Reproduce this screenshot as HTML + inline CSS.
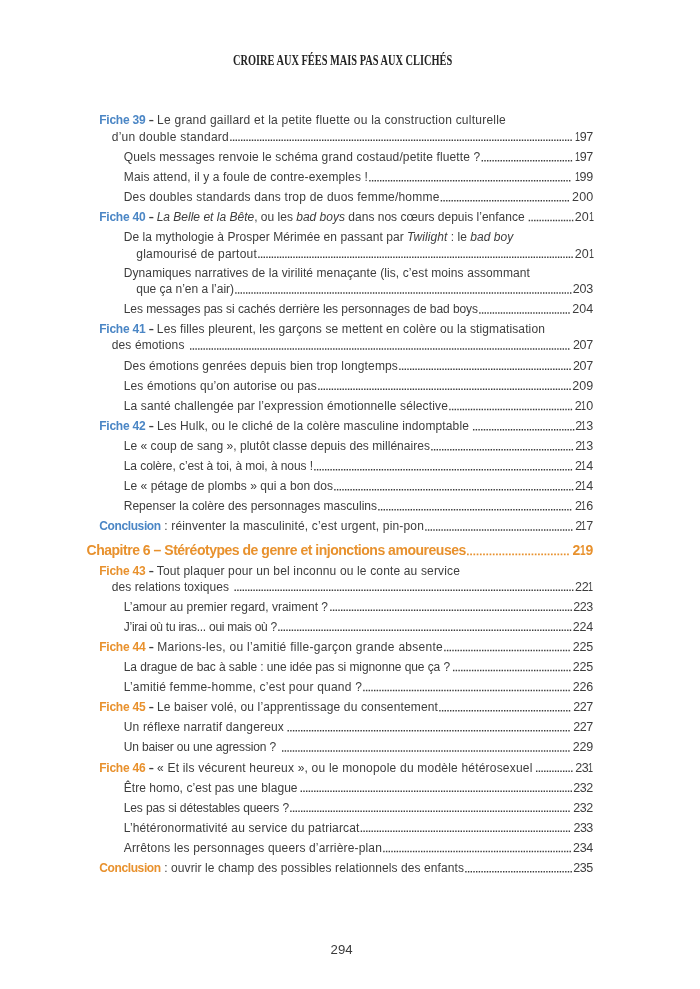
<!DOCTYPE html>
<html lang="fr">
<head>
<meta charset="utf-8">
<title>Table des matières – page 294</title>
<style>
html,body{margin:0;padding:0;background:#fff;}
body{width:700px;height:989px;position:relative;overflow:hidden;font-family:"Liberation Sans",sans-serif;color:#3d3d3d;}
.l{position:absolute;white-space:nowrap;line-height:18px;height:18px;font-size:12.0px;}
.l.h{font-size:14.0px;font-weight:bold;color:#e8912d;}
.t{position:absolute;left:0;top:0;white-space:pre;}
.p{position:absolute;right:0;top:0;font-size:12.5px;font-weight:normal;}
.l.h .p{font-size:14.0px;font-weight:bold;}
.b .k{color:#4b86c5;font-weight:bold;}
.o .k{color:#e8912d;font-weight:bold;}
i{font-style:italic;}
.ds{display:inline-block;width:4.6px;letter-spacing:0;font-weight:bold;transform:scaleX(.69);transform-origin:0 50%;}
.n1{display:inline-block;width:.39em;margin-left:-.03em;transform:scaleX(.72);transform-origin:0 50%;}
#ld{position:absolute;left:0;top:0;pointer-events:none;}
.dd{stroke:#3c3c3c;stroke-width:1.5;stroke-dasharray:1.4 1.3;}
.dh{stroke:#e8912d;stroke-width:1.75;stroke-dasharray:1.7 1.53;}
#hd{position:absolute;white-space:nowrap;font-family:"Liberation Serif",serif;font-weight:bold;color:#242424;transform-origin:0 0;line-height:20px;}
#ft{position:absolute;white-space:nowrap;color:#3a3a3a;line-height:20px;}
</style>
</head>
<body>
<div id="hd" style="left:232.70px;top:50.90px;font-size:14.0px;transform:scaleX(0.7402)">CROIRE AUX FÉES MAIS PAS AUX CLICHÉS</div>
<div class="l b" style="left:99.25px;top:111.25px;width:494.05px"><span class="t"><span class="k" style="letter-spacing:-0.241px">Fiche 39</span><span style="letter-spacing:0.236px"> <span class="ds">–</span> Le grand gaillard et la petite fluette ou la construction culturelle</span></span></div>
<div class="l b" style="left:111.75px;top:127.50px;width:481.55px"><span class="t"><span style="letter-spacing:0.258px">d’un double standard</span></span><span class="p" style="letter-spacing:-0.34px;margin-right:0.34px"><span class="n1">1</span>97</span></div>
<div class="l b" style="left:123.75px;top:148.00px;width:469.55px"><span class="t"><span style="letter-spacing:0.134px">Quels messages renvoie le schéma grand costaud/petite fluette ?</span></span><span class="p" style="letter-spacing:-0.34px;margin-right:0.34px"><span class="n1">1</span>97</span></div>
<div class="l b" style="left:123.75px;top:168.00px;width:469.55px"><span class="t"><span style="letter-spacing:0.133px">Mais attend, il y a foule de contre-exemples !</span></span><span class="p" style="letter-spacing:-0.04px;margin-right:0.04px"><span class="n1">1</span>99</span></div>
<div class="l b" style="left:123.75px;top:188.00px;width:469.55px"><span class="t"><span style="letter-spacing:0.201px">Des doubles standards dans trop de duos femme/homme</span></span><span class="p" style="letter-spacing:0.25px;margin-right:-0.25px">200</span></div>
<div class="l b" style="left:99.25px;top:207.90px;width:494.05px"><span class="t"><span class="k" style="letter-spacing:-0.241px">Fiche 40</span><span style="letter-spacing:0.006px"> <span class="ds">–</span> <i>La Belle et la Bête</i>, ou les <i>bad boys</i> dans nos cœurs depuis l’enfance</span></span><span class="p" style="letter-spacing:0.10px;margin-right:-0.10px">20<span class="n1">1</span></span></div>
<div class="l b" style="left:123.75px;top:228.30px;width:469.55px"><span class="t"><span style="letter-spacing:0.051px">De la mythologie à Prosper Mérimée en passant par <i>Twilight</i> : le <i>bad boy</i></span></span></div>
<div class="l b" style="left:136.25px;top:244.50px;width:457.05px"><span class="t"><span style="letter-spacing:0.222px">glamourisé de partout</span></span><span class="p" style="letter-spacing:0.10px;margin-right:-0.10px">20<span class="n1">1</span></span></div>
<div class="l b" style="left:123.75px;top:264.40px;width:469.55px"><span class="t"><span style="letter-spacing:0.091px">Dynamiques narratives de la virilité menaçante (lis, c’est moins assommant</span></span></div>
<div class="l b" style="left:136.25px;top:280.40px;width:457.05px"><span class="t"><span style="letter-spacing:-0.016px">que ça n’en a l’air)</span></span><span class="p" style="letter-spacing:-0.15px;margin-right:0.15px">203</span></div>
<div class="l b" style="left:123.75px;top:300.40px;width:469.55px"><span class="t"><span style="letter-spacing:-0.063px">Les messages pas si cachés derrière les personnages de bad boys</span></span><span class="p" style="letter-spacing:0.11px;margin-right:-0.11px">204</span></div>
<div class="l b" style="left:99.25px;top:320.40px;width:494.05px"><span class="t"><span class="k" style="letter-spacing:-0.241px">Fiche 41</span><span style="letter-spacing:0.116px"> <span class="ds">–</span> Les filles pleurent, les garçons se mettent en colère ou la stigmatisation</span></span></div>
<div class="l b" style="left:111.75px;top:336.40px;width:481.55px"><span class="t"><span style="letter-spacing:0.115px">des émotions</span></span><span class="p" style="letter-spacing:-0.22px;margin-right:0.22px">207</span></div>
<div class="l b" style="left:123.75px;top:356.50px;width:469.55px"><span class="t"><span style="letter-spacing:0.144px">Des émotions genrées depuis bien trop longtemps</span></span><span class="p" style="letter-spacing:-0.22px;margin-right:0.22px">207</span></div>
<div class="l b" style="left:123.75px;top:376.70px;width:469.55px"><span class="t"><span style="letter-spacing:0.111px">Les émotions qu’on autorise ou pas</span></span><span class="p" style="letter-spacing:0.08px;margin-right:-0.08px">209</span></div>
<div class="l b" style="left:123.75px;top:396.80px;width:469.55px"><span class="t"><span style="letter-spacing:0.136px">La santé challengée par l’expression émotionnelle sélective</span></span><span class="p" style="letter-spacing:0.10px;margin-right:-0.10px">2<span class="n1">1</span>0</span></div>
<div class="l b" style="left:99.25px;top:417.00px;width:494.05px"><span class="t"><span class="k" style="letter-spacing:-0.241px">Fiche 42</span><span style="letter-spacing:0.128px"> <span class="ds">–</span> Les Hulk, ou le cliché de la colère masculine indomptable</span></span><span class="p" style="letter-spacing:-0.30px;margin-right:0.30px">2<span class="n1">1</span>3</span></div>
<div class="l b" style="left:123.75px;top:437.00px;width:469.55px"><span class="t"><span style="letter-spacing:0.036px">Le « coup de sang », plutôt classe depuis des millénaires</span></span><span class="p" style="letter-spacing:-0.30px;margin-right:0.30px">2<span class="n1">1</span>3</span></div>
<div class="l b" style="left:123.75px;top:457.00px;width:469.55px"><span class="t"><span style="letter-spacing:-0.073px">La colère, c’est à toi, à moi, à nous !</span></span><span class="p" style="letter-spacing:-0.04px;margin-right:0.04px">2<span class="n1">1</span>4</span></div>
<div class="l b" style="left:123.75px;top:477.00px;width:469.55px"><span class="t"><span style="letter-spacing:0.047px">Le « pétage de plombs » qui a bon dos</span></span><span class="p" style="letter-spacing:-0.04px;margin-right:0.04px">2<span class="n1">1</span>4</span></div>
<div class="l b" style="left:123.75px;top:497.00px;width:469.55px"><span class="t"><span style="letter-spacing:0.010px">Repenser la colère des personnages masculins</span></span><span class="p" style="letter-spacing:-0.04px;margin-right:0.04px">2<span class="n1">1</span>6</span></div>
<div class="l b" style="left:99.25px;top:517.25px;width:494.05px"><span class="t"><span class="k" style="letter-spacing:-0.384px">Conclusion</span><span style="letter-spacing:0.166px"> : réinventer la masculinité, c’est urgent, pin-pon</span></span><span class="p" style="letter-spacing:-0.37px;margin-right:0.37px">2<span class="n1">1</span>7</span></div>
<div class="l h o" style="left:86.50px;top:541.00px;width:506.80px"><span class="t"><span class="k" style="letter-spacing:-0.481px">Chapitre 6 – Stéréotypes de genre et injonctions amoureuses</span></span><span class="p" style="letter-spacing:0.19px;margin-right:-0.19px">2<span class="n1">1</span>9</span></div>
<div class="l o" style="left:99.25px;top:561.50px;width:494.05px"><span class="t"><span class="k" style="letter-spacing:-0.241px">Fiche 43</span><span style="letter-spacing:0.153px"> <span class="ds">–</span> Tout plaquer pour un bel inconnu ou le conte au service</span></span></div>
<div class="l o" style="left:111.75px;top:577.50px;width:481.55px"><span class="t"><span style="letter-spacing:0.058px">des relations toxiques</span></span><span class="p" style="letter-spacing:-0.10px;margin-right:0.10px">22<span class="n1">1</span></span></div>
<div class="l o" style="left:123.75px;top:597.50px;width:469.55px"><span class="t"><span style="letter-spacing:0.004px">L’amour au premier regard, vraiment ?</span></span><span class="p" style="letter-spacing:-0.35px;margin-right:0.35px">223</span></div>
<div class="l o" style="left:123.75px;top:617.70px;width:469.55px"><span class="t"><span style="letter-spacing:-0.260px">J’irai où tu iras... oui mais où ?</span></span><span class="p" style="letter-spacing:-0.09px;margin-right:0.09px">224</span></div>
<div class="l o" style="left:99.25px;top:637.75px;width:494.05px"><span class="t"><span class="k" style="letter-spacing:-0.241px">Fiche 44</span><span style="letter-spacing:0.276px"> <span class="ds">–</span> Marions-les, ou l’amitié fille-garçon grande absente</span></span><span class="p" style="letter-spacing:-0.19px;margin-right:0.19px">225</span></div>
<div class="l o" style="left:123.75px;top:657.75px;width:469.55px"><span class="t"><span style="letter-spacing:-0.089px">La drague de bac à sable : une idée pas si mignonne que ça ?</span></span><span class="p" style="letter-spacing:-0.19px;margin-right:0.19px">225</span></div>
<div class="l o" style="left:123.75px;top:677.75px;width:469.55px"><span class="t"><span style="letter-spacing:0.204px">L’amitié femme-homme, c’est pour quand ?</span></span><span class="p" style="letter-spacing:-0.09px;margin-right:0.09px">226</span></div>
<div class="l o" style="left:99.25px;top:698.00px;width:494.05px"><span class="t"><span class="k" style="letter-spacing:-0.241px">Fiche 45</span><span style="letter-spacing:0.138px"> <span class="ds">–</span> Le baiser volé, ou l’apprentissage du consentement</span></span><span class="p" style="letter-spacing:-0.42px;margin-right:0.42px">227</span></div>
<div class="l o" style="left:123.75px;top:718.20px;width:469.55px"><span class="t"><span style="letter-spacing:0.166px">Un réflexe narratif dangereux</span></span><span class="p" style="letter-spacing:-0.42px;margin-right:0.42px">227</span></div>
<div class="l o" style="left:123.75px;top:738.25px;width:469.55px"><span class="t"><span style="letter-spacing:-0.162px">Un baiser ou une agression ?</span></span><span class="p" style="letter-spacing:-0.12px;margin-right:0.12px">229</span></div>
<div class="l o" style="left:99.25px;top:758.50px;width:494.05px"><span class="t"><span class="k" style="letter-spacing:-0.241px">Fiche 46</span><span style="letter-spacing:0.201px"> <span class="ds">–</span> « Et ils vécurent heureux », ou le monopole du modèle hétérosexuel</span></span><span class="p" style="letter-spacing:-0.30px;margin-right:0.30px">23<span class="n1">1</span></span></div>
<div class="l o" style="left:123.75px;top:778.50px;width:469.55px"><span class="t"><span style="letter-spacing:0.056px">Être homo, c’est pas une blague</span></span><span class="p" style="letter-spacing:-0.35px;margin-right:0.35px">232</span></div>
<div class="l o" style="left:123.75px;top:798.50px;width:469.55px"><span class="t"><span style="letter-spacing:-0.114px">Les pas si détestables queers ?</span></span><span class="p" style="letter-spacing:-0.35px;margin-right:0.35px">232</span></div>
<div class="l o" style="left:123.75px;top:818.50px;width:469.55px"><span class="t"><span style="letter-spacing:0.143px">L’hétéronormativité au service du patriarcat</span></span><span class="p" style="letter-spacing:-0.55px;margin-right:0.55px">233</span></div>
<div class="l o" style="left:123.75px;top:838.75px;width:469.55px"><span class="t"><span style="letter-spacing:0.162px">Arrêtons les personnages queers d’arrière-plan</span></span><span class="p" style="letter-spacing:-0.29px;margin-right:0.29px">234</span></div>
<div class="l o" style="left:99.25px;top:859.00px;width:494.05px"><span class="t"><span class="k" style="letter-spacing:-0.384px">Conclusion</span><span style="letter-spacing:0.089px"> : ouvrir le champ des possibles relationnels des enfants</span></span><span class="p" style="letter-spacing:-0.39px;margin-right:0.39px">235</span></div>
<svg id="ld" width="700" height="989" viewBox="0 0 700 989">
<line class="dd" x1="230.20" x2="571.80" y1="140.15" y2="140.15"/>
<line class="dd" x1="481.60" x2="572.10" y1="160.65" y2="160.65"/>
<line class="dd" x1="369.20" x2="570.40" y1="180.65" y2="180.65"/>
<line class="dd" x1="440.70" x2="569.00" y1="200.65" y2="200.65"/>
<line class="dd" x1="528.70" x2="573.30" y1="220.55" y2="220.55"/>
<line class="dd" x1="258.20" x2="572.80" y1="257.15" y2="257.15"/>
<line class="dd" x1="235.20" x2="571.40" y1="293.05" y2="293.05"/>
<line class="dd" x1="479.20" x2="569.70" y1="313.05" y2="313.05"/>
<line class="dd" x1="190.00" x2="569.40" y1="349.05" y2="349.05"/>
<line class="dd" x1="399.20" x2="570.70" y1="369.15" y2="369.15"/>
<line class="dd" x1="318.20" x2="570.70" y1="389.35" y2="389.35"/>
<line class="dd" x1="449.20" x2="572.10" y1="409.45" y2="409.45"/>
<line class="dd" x1="473.00" x2="574.30" y1="429.65" y2="429.65"/>
<line class="dd" x1="431.20" x2="573.00" y1="449.65" y2="449.65"/>
<line class="dd" x1="314.20" x2="572.10" y1="469.65" y2="469.65"/>
<line class="dd" x1="334.20" x2="573.20" y1="489.65" y2="489.65"/>
<line class="dd" x1="378.20" x2="571.30" y1="509.65" y2="509.65"/>
<line class="dd" x1="425.20" x2="572.40" y1="529.90" y2="529.90"/>
<line class="dh" x1="467.00" x2="568.83" y1="554.25" y2="554.25"/>
<line class="dd" x1="234.50" x2="573.40" y1="590.15" y2="590.15"/>
<line class="dd" x1="330.20" x2="571.90" y1="610.15" y2="610.15"/>
<line class="dd" x1="278.20" x2="571.20" y1="630.35" y2="630.35"/>
<line class="dd" x1="444.20" x2="569.80" y1="650.40" y2="650.40"/>
<line class="dd" x1="453.00" x2="570.50" y1="670.40" y2="670.40"/>
<line class="dd" x1="363.20" x2="569.80" y1="690.40" y2="690.40"/>
<line class="dd" x1="439.20" x2="570.20" y1="710.65" y2="710.65"/>
<line class="dd" x1="287.50" x2="569.70" y1="730.85" y2="730.85"/>
<line class="dd" x1="282.00" x2="569.60" y1="750.90" y2="750.90"/>
<line class="dd" x1="536.00" x2="572.50" y1="771.15" y2="771.15"/>
<line class="dd" x1="300.60" x2="572.00" y1="791.15" y2="791.15"/>
<line class="dd" x1="290.20" x2="569.70" y1="811.15" y2="811.15"/>
<line class="dd" x1="360.70" x2="570.00" y1="831.15" y2="831.15"/>
<line class="dd" x1="383.20" x2="570.90" y1="851.40" y2="851.40"/>
<line class="dd" x1="465.20" x2="571.90" y1="871.65" y2="871.65"/>
</svg>
<div id="ft" style="left:330.59px;top:940.10px;font-size:13.2px">294</div>
</body>
</html>
